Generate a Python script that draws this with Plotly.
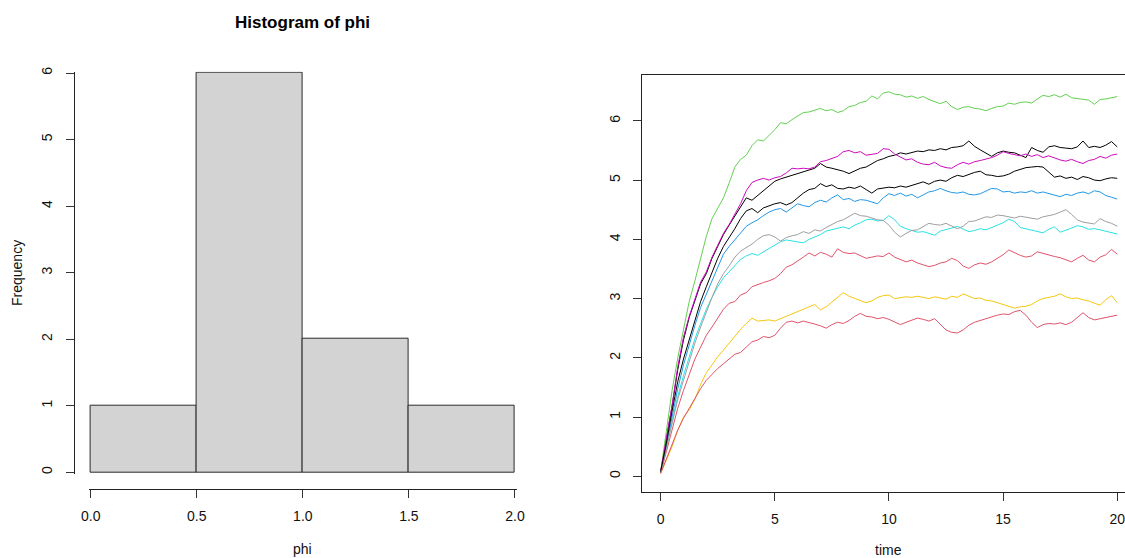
import numpy as np
import plotly.graph_objects as go

# ---------------- data ----------------
phi_bin_edges = [0.0, 0.5, 1.0, 1.5, 2.0]
phi_counts = [1, 6, 2, 1]
phi_tick_labels = ["0.0", "0.5", "1.0", "1.5", "2.0"]

time = np.linspace(0, 20, 81)  # observation grid, step 0.25

path_black1 = [0.08, 0.62, 1.18, 1.80, 2.30, 2.68, 2.98, 3.25, 3.42, 3.68, 3.88, 4.08, 4.24, 4.40, 4.56, 4.70,
               4.66, 4.74, 4.82, 4.90, 4.98, 5.02, 5.05, 5.08, 5.11, 5.14, 5.17, 5.20, 5.28, 5.22, 5.20, 5.18,
               5.15, 5.11, 5.16, 5.20, 5.22, 5.28, 5.33, 5.36, 5.40, 5.42, 5.46, 5.44, 5.47, 5.49, 5.48, 5.51,
               5.50, 5.53, 5.51, 5.55, 5.56, 5.58, 5.66, 5.57, 5.51, 5.45, 5.40, 5.46, 5.49, 5.47, 5.46, 5.42,
               5.38, 5.55, 5.50, 5.47, 5.56, 5.58, 5.55, 5.54, 5.53, 5.56, 5.66, 5.55, 5.57, 5.55, 5.59, 5.65, 5.56]
path_red1 = [0.05, 0.42, 0.80, 1.15, 1.45, 1.72, 1.98, 2.18, 2.38, 2.52, 2.66, 2.82, 2.92, 2.95, 3.06, 3.10,
             3.20, 3.24, 3.27, 3.30, 3.34, 3.42, 3.53, 3.57, 3.63, 3.70, 3.77, 3.72, 3.78, 3.75, 3.70, 3.84,
             3.78, 3.76, 3.77, 3.72, 3.68, 3.70, 3.72, 3.71, 3.77, 3.70, 3.66, 3.62, 3.65, 3.60, 3.57, 3.54,
             3.56, 3.60, 3.62, 3.68, 3.64, 3.55, 3.51, 3.57, 3.60, 3.58, 3.62, 3.68, 3.74, 3.82, 3.77, 3.73,
             3.70, 3.72, 3.79, 3.76, 3.74, 3.71, 3.69, 3.66, 3.62, 3.68, 3.73, 3.65, 3.62, 3.70, 3.74, 3.83, 3.75]
path_green = [0.08, 0.80, 1.45, 2.00, 2.50, 2.95, 3.30, 3.70, 4.05, 4.35, 4.52, 4.70, 4.95, 5.22, 5.35, 5.42,
              5.58, 5.68, 5.66, 5.76, 5.85, 5.97, 5.95, 6.02, 6.08, 6.14, 6.15, 6.18, 6.21, 6.17, 6.19, 6.14,
              6.17, 6.24, 6.26, 6.31, 6.33, 6.42, 6.37, 6.47, 6.49, 6.45, 6.44, 6.40, 6.42, 6.38, 6.41, 6.36,
              6.32, 6.29, 6.33, 6.24, 6.19, 6.23, 6.24, 6.21, 6.20, 6.17, 6.21, 6.24, 6.25, 6.30, 6.28, 6.31,
              6.32, 6.30, 6.37, 6.43, 6.41, 6.44, 6.40, 6.45, 6.39, 6.38, 6.37, 6.35, 6.28, 6.36, 6.37, 6.39, 6.41]
path_blue = [0.06, 0.50, 1.00, 1.48, 1.88, 2.22, 2.55, 2.85, 3.08, 3.32, 3.55, 3.75, 3.88, 4.00, 4.10, 4.22,
             4.28, 4.33, 4.40, 4.46, 4.50, 4.52, 4.46, 4.53, 4.60, 4.57, 4.55, 4.62, 4.66, 4.63, 4.70, 4.75,
             4.67, 4.69, 4.64, 4.67, 4.66, 4.63, 4.60, 4.70, 4.77, 4.74, 4.78, 4.73, 4.76, 4.70, 4.75, 4.80,
             4.82, 4.86, 4.82, 4.79, 4.78, 4.80, 4.76, 4.75, 4.77, 4.82, 4.86, 4.85, 4.80, 4.81, 4.78, 4.80,
             4.79, 4.82, 4.78, 4.80, 4.77, 4.75, 4.72, 4.76, 4.74, 4.78, 4.80, 4.77, 4.82, 4.80, 4.74, 4.71, 4.68]
path_cyan = [0.06, 0.50, 0.95, 1.35, 1.70, 2.02, 2.32, 2.58, 2.82, 3.02, 3.20, 3.35, 3.45, 3.55, 3.66, 3.72,
             3.76, 3.73, 3.79, 3.84, 3.90, 3.96, 3.99, 3.97, 3.96, 3.94, 4.00, 4.04, 4.08, 4.14, 4.16, 4.19,
             4.21, 4.18, 4.24, 4.28, 4.33, 4.34, 4.31, 4.32, 4.40, 4.33, 4.22, 4.18, 4.15, 4.12, 4.13, 4.10,
             4.07, 4.14, 4.16, 4.19, 4.22, 4.18, 4.13, 4.15, 4.18, 4.16, 4.20, 4.25, 4.28, 4.34, 4.30, 4.20,
             4.18, 4.16, 4.13, 4.11, 4.17, 4.21, 4.12, 4.15, 4.19, 4.23, 4.21, 4.17, 4.18, 4.16, 4.14, 4.12, 4.09]
path_magenta = [0.08, 0.65, 1.20, 1.85, 2.35, 2.70, 3.00, 3.28, 3.45, 3.70, 3.90, 4.10, 4.25, 4.42, 4.60, 4.82,
                4.96, 5.00, 5.03, 5.00, 5.04, 5.06, 5.12, 5.20, 5.19, 5.20, 5.19, 5.22, 5.31, 5.33, 5.36, 5.40,
                5.48, 5.50, 5.46, 5.48, 5.42, 5.43, 5.45, 5.53, 5.52, 5.44, 5.39, 5.34, 5.36, 5.30, 5.27, 5.26,
                5.30, 5.24, 5.21, 5.20, 5.26, 5.30, 5.27, 5.31, 5.33, 5.35, 5.38, 5.42, 5.48, 5.45, 5.43, 5.41,
                5.44, 5.40, 5.43, 5.38, 5.41, 5.37, 5.34, 5.32, 5.35, 5.31, 5.28, 5.33, 5.35, 5.40, 5.37, 5.42, 5.44]
path_yellow = [0.05, 0.28, 0.50, 0.78, 1.00, 1.12, 1.30, 1.55, 1.75, 1.88, 2.02, 2.13, 2.25, 2.38, 2.48, 2.58,
               2.67, 2.62, 2.63, 2.64, 2.62, 2.66, 2.70, 2.74, 2.78, 2.83, 2.87, 2.90, 2.81, 2.86, 2.94, 3.02,
               3.10, 3.04, 3.00, 2.97, 2.93, 2.96, 3.02, 3.05, 3.06, 3.00, 3.01, 3.03, 3.02, 3.04, 3.02, 3.00,
               3.03, 3.01, 2.99, 3.04, 3.02, 3.08, 3.04, 3.00, 3.01, 2.97, 2.96, 2.93, 2.90, 2.86, 2.84, 2.86,
               2.87, 2.90, 2.96, 3.00, 3.02, 3.04, 3.08, 3.03, 3.00, 3.01, 2.98, 2.96, 2.92, 2.89, 2.98, 3.05, 2.93]
path_gray = [0.06, 0.48, 0.90, 1.30, 1.62, 1.95, 2.25, 2.52, 2.78, 3.02, 3.25, 3.42, 3.55, 3.70, 3.80, 3.86,
             3.92, 4.00, 4.06, 4.08, 4.04, 3.97, 4.03, 4.06, 4.08, 4.13, 4.10, 4.16, 4.14, 4.20, 4.25, 4.30,
             4.33, 4.38, 4.44, 4.40, 4.39, 4.36, 4.33, 4.32, 4.24, 4.12, 4.04, 4.10, 4.15, 4.16, 4.22, 4.27,
             4.25, 4.24, 4.27, 4.23, 4.18, 4.22, 4.30, 4.31, 4.35, 4.38, 4.37, 4.41, 4.40, 4.38, 4.36, 4.39,
             4.37, 4.36, 4.34, 4.38, 4.40, 4.42, 4.46, 4.50, 4.42, 4.33, 4.29, 4.27, 4.26, 4.35, 4.30, 4.27, 4.22]
path_black2 = [0.08, 0.55, 1.10, 1.60, 1.98, 2.30, 2.65, 2.95, 3.20, 3.45, 3.68, 3.88, 4.02, 4.18, 4.35, 4.48,
               4.52, 4.45, 4.53, 4.57, 4.60, 4.62, 4.58, 4.62, 4.70, 4.78, 4.84, 4.86, 4.94, 4.89, 4.92, 4.86,
               4.85, 4.88, 4.86, 4.90, 4.84, 4.78, 4.85, 4.86, 4.88, 4.87, 4.90, 4.88, 4.91, 4.94, 4.97, 4.93,
               4.98, 5.00, 4.98, 5.04, 5.08, 5.06, 5.10, 5.13, 5.15, 5.09, 5.08, 5.06, 5.07, 5.10, 5.15, 5.18,
               5.21, 5.22, 5.23, 5.22, 5.14, 5.05, 5.07, 5.03, 5.05, 5.01, 5.06, 5.04, 5.00, 4.99, 5.02, 5.04, 5.03]
path_red2 = [0.05, 0.30, 0.55, 0.78, 0.98, 1.15, 1.32, 1.48, 1.62, 1.72, 1.82, 1.90, 1.98, 2.06, 2.09, 2.18,
             2.27, 2.30, 2.36, 2.34, 2.38, 2.50, 2.60, 2.62, 2.59, 2.62, 2.60, 2.57, 2.54, 2.50, 2.56, 2.60,
             2.58, 2.63, 2.70, 2.75, 2.70, 2.69, 2.66, 2.68, 2.65, 2.60, 2.56, 2.60, 2.64, 2.67, 2.65, 2.62,
             2.66, 2.57, 2.47, 2.43, 2.42, 2.47, 2.55, 2.60, 2.63, 2.66, 2.70, 2.72, 2.74, 2.73, 2.78, 2.80,
             2.72, 2.60, 2.51, 2.56, 2.58, 2.57, 2.59, 2.56, 2.60, 2.68, 2.76, 2.68, 2.64, 2.66, 2.68, 2.70, 2.72]

paths = [path_black1, path_red1, path_green, path_blue, path_cyan,
         path_magenta, path_yellow, path_gray, path_black2, path_red2]
path_colors = ["#000000", "#DF536B", "#61D04F", "#2297E6", "#28E2E5",
               "#CD0BBC", "#F5C710", "#9E9E9E", "#000000", "#DF536B"]
time_ticks = [0, 5, 10, 15, 20]
value_ticks = [0, 1, 2, 3, 4, 5, 6]
freq_ticks = [0, 1, 2, 3, 4, 5, 6]

# ---------------- figure ----------------
W, H = 1125, 558
FONT = "Liberation Sans, Arial, Helvetica, sans-serif"

def px(x):
    return x / W

def py(y):
    return (H - y) / H

fig = go.Figure()

centers = [(a + b) / 2 for a, b in zip(phi_bin_edges[:-1], phi_bin_edges[1:])]
widths = [b - a for a, b in zip(phi_bin_edges[:-1], phi_bin_edges[1:])]
fig.add_trace(go.Bar(x=centers, y=phi_counts, width=widths,
                     marker=dict(color="#D3D3D3", line=dict(color="#2a2a2a", width=1)),
                     xaxis="x", yaxis="y", hoverinfo="x+y"))

for vals, col in zip(paths, path_colors):
    fig.add_trace(go.Scatter(x=time, y=vals, mode="lines",
                             line=dict(color=col, width=1),
                             xaxis="x2", yaxis="y2"))

axis_common = dict(showgrid=False, zeroline=False, ticks="outside", ticklen=8,
                   tickcolor="#333", linecolor="#222", linewidth=1, showline=True,
                   tickfont=dict(family=FONT, size=14, color="#111"))

fig.update_layout(
    autosize=True,
    margin=dict(l=0, r=0, t=0, b=0, autoexpand=False),
    paper_bgcolor="white", plot_bgcolor="white",
    showlegend=False,
    bargap=0,
    font=dict(family=FONT, size=14, color="#111"),
    xaxis=dict(domain=[px(88.6), px(517.1)], range=[-0.01, 2.01],
               anchor="free", position=py(489.0),
               tickvals=phi_bin_edges, ticktext=phi_tick_labels,
               ticklabelstandoff=6, **axis_common),
    yaxis=dict(domain=[py(473.6), py(71.7)], range=[-0.02, 6.02],
               anchor="free", position=px(73.5),
               tickvals=freq_ticks, tickangle=-90,
               ticklabelstandoff=8, **axis_common),
    xaxis2=dict(domain=[px(642.4), 1.0], range=[-0.8, 20.34],
                anchor="y2", mirror=True,
                tickvals=time_ticks, ticklabelstandoff=6, ticklabeloverflow="allow",
                **axis_common),
    yaxis2=dict(domain=[py(491.7), py(75.0)], range=[-0.26, 6.774],
                anchor="x2", mirror=False,
                tickvals=value_ticks, tickangle=-90,
                ticklabelstandoff=8, **axis_common),
    annotations=[
        dict(text="<b>Histogram of phi</b>", x=px(302), y=py(22.5), xref="paper", yref="paper",
             showarrow=False, xanchor="center", yanchor="middle",
             font=dict(family=FONT, size=17, color="#000")),
        dict(text="Frequency", x=px(17), y=py(273), xref="paper", yref="paper",
             showarrow=False, textangle=-90, xanchor="center", yanchor="middle",
             font=dict(family=FONT, size=14, color="#111")),
        dict(text="phi", x=px(302), y=py(549), xref="paper", yref="paper",
             showarrow=False, xanchor="center", yanchor="middle",
             font=dict(family=FONT, size=14, color="#111")),
        dict(text="time", x=px(888), y=py(549.5), xref="paper", yref="paper",
             showarrow=False, xanchor="center", yanchor="middle",
             font=dict(family=FONT, size=14, color="#111")),
    ],
)

page_fix = (
    "var s=document.createElement('style');"
    "s.textContent='html,body{margin:0!important;padding:0!important;overflow:hidden!important;"
    "width:100%;height:100%;} .plotly-graph-div{position:fixed!important;left:0!important;top:0!important;"
    "width:100vw!important;height:100vh!important;}';"
    "document.head.appendChild(s);"
    "var gd=document.getElementById('{plot_id}');"
    "return Plotly.Plots.resize(gd);"
)

fig.write_html("out.html", config={"displayModeBar": False, "responsive": True},
               post_script=page_fix, default_width="100%", default_height="100%")
